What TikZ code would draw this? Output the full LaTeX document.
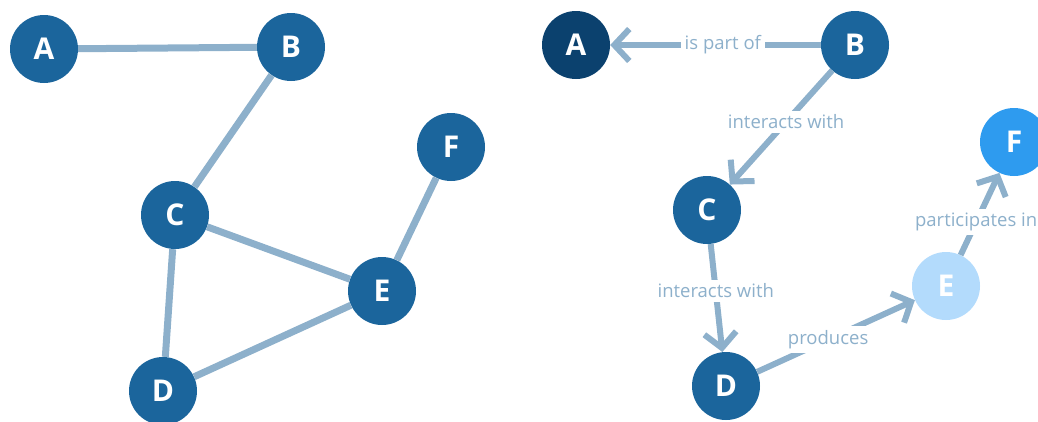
\documentclass[tikz,border=0pt]{standalone}
\usepackage{fontspec}
\setmainfont{Open Sans}
\usetikzlibrary{arrows.meta}
\definecolor{nodeblue}{HTML}{1B659C}
\definecolor{nodedark}{HTML}{0B416E}
\definecolor{nodelight}{HTML}{B3DBFC}
\definecolor{nodebright}{HTML}{2E9BEF}
\definecolor{edgecol}{HTML}{8DB0CB}
\tikzset{
  vertex/.style={circle, minimum size=68pt, inner sep=0pt, fill=nodeblue,
    text=white, font=\fontsize{30}{30}\selectfont\bfseries},
  link/.style={draw=edgecol, line width=7pt},
  rel/.style={draw=edgecol, line width=6pt,
    -{Straight Barb[length=15pt, width=32pt, line width=6pt]}},
  rellabel/.style={fill=white, text=edgecol, inner sep=4pt,
    font=\fontsize{18.5}{18.5}\selectfont},
}
\begin{document}
\begin{tikzpicture}[x=1pt, y=-1pt]
\useasboundingbox (0,0) rectangle (1038,421);
% undirected graph
\node[vertex] (A) at (44,49) {A};
\node[vertex] (B) at (291,47) {B};
\node[vertex] (C) at (175,215) {C};
\node[vertex] (D) at (163,391) {D};
\node[vertex] (E) at (382,291) {E};
\node[vertex] (F) at (451,147) {F};
\draw[link] (A) -- (B);
\draw[link] (B) -- (C);
\draw[link] (C) -- (D);
\draw[link] (C) -- (E);
\draw[link] (D) -- (E);
\draw[link] (E) -- (F);
% directed graph with relation labels
\node[vertex, fill=nodedark] (A2) at (576,45) {A};
\node[vertex] (B2) at (855,45) {B};
\node[vertex] (C2) at (707,210) {C};
\node[vertex] (D2) at (726,386) {D};
\node[vertex, fill=nodelight] (E2) at (946,286) {E};
\node[vertex, fill=nodebright] (F2) at (1014,142) {F};
\draw[rel] (B2) -- node[rellabel, pos=0.465] {is part of} (A2);
\draw[rel] (B2) -- node[rellabel, pos=0.45] {interacts with} (C2);
\draw[rel] (C2) -- node[rellabel, pos=0.435] {interacts with} (D2);
\draw[rel] (D2) -- node[rellabel, pos=0.45] {produces} (E2);
\draw[rel] (E2) -- node[rellabel, pos=0.4] {participates in} (F2);
\end{tikzpicture}
\end{document}
